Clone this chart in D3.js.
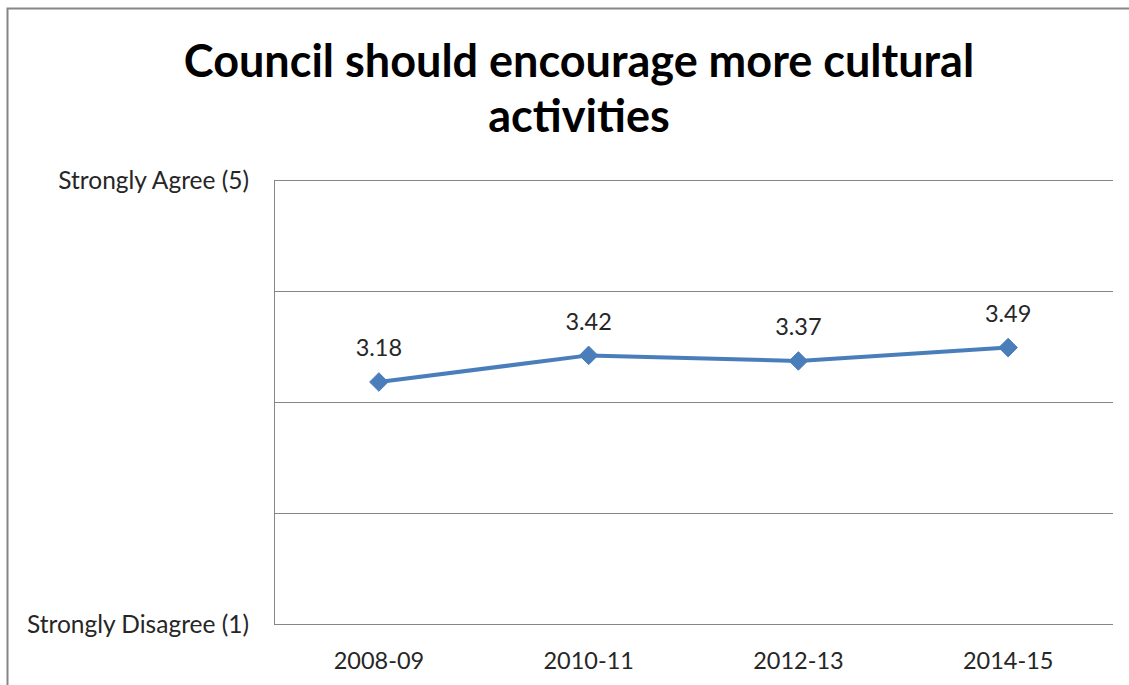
<!DOCTYPE html>
<html><head><meta charset="utf-8">
<script src="https://cdn.jsdelivr.net/npm/d3@7"></script>
<style>html,body{margin:0;padding:0;background:#fff;}svg{display:block;font-family:Lato,"Open Sans",sans-serif;}</style>
</head><body>
<svg id="c" width="1129" height="685"></svg>
<script>
const categories = ["2008-09", "2010-11", "2012-13", "2014-15"];
const values = [3.18, 3.42, 3.37, 3.49];
const yTicks = [1, 2, 3, 4, 5];
const yTickLabels = {1: "Strongly Disagree (1)", 5: "Strongly Agree (5)"};
const titleLines = ["Council should encourage more cultural", "activities"];

const svg = d3.select("#c");
const m = {left: 274, right: 1113, top: 180, bottom: 624};

svg.append("rect").attr("x", 7.5).attr("y", 8.5).attr("width", 1140).attr("height", 700)
  .attr("fill", "#fff").attr("stroke", "#868686").attr("stroke-width", 2);

const x = d3.scaleBand().domain(categories).range([m.left, m.right]);
const y = d3.scaleLinear().domain([1, 5]).range([m.bottom, m.top]);

// gridlines
svg.append("g").attr("transform", `translate(${m.left},0)`)
  .call(d3.axisLeft(y).tickValues(yTicks).tickSize(-(m.right - m.left)).tickFormat(""))
  .call(g => g.select(".domain").remove())
  .call(g => g.selectAll("line").attr("stroke", "#868686").attr("stroke-width", 1).attr("shape-rendering","crispEdges"));
svg.append("line").attr("x1", m.left + 0.5).attr("x2", m.left + 0.5).attr("y1", m.top).attr("y2", m.bottom)
  .attr("stroke", "#868686");

// y labels
svg.append("g").selectAll("text").data(yTicks.filter(d => yTickLabels[d]))
  .join("text").attr("x", 249).attr("y", d => y(d)).attr("dy", "0.35em")
  .attr("text-anchor", "end").attr("font-size", 24.5).attr("fill", "#262626")
  .text(d => yTickLabels[d]);

// x labels
svg.append("g").attr("transform", `translate(0,${m.bottom})`)
  .call(d3.axisBottom(x).tickSize(0).tickPadding(0))
  .call(g => g.select(".domain").remove())
  .call(g => g.selectAll("text").attr("font-size", 23.5).attr("fill", "#262626")
     .attr("font-family", "Lato,'Open Sans',sans-serif").attr("y", 37).attr("dy", "0.35em"));

// title
svg.append("text").attr("x", 579).attr("text-anchor", "middle")
  .attr("font-size", 45).attr("font-weight", "bold").attr("fill", "#000")
  .selectAll("tspan").data(titleLines).join("tspan")
  .attr("x", 579).attr("y", (d, i) => 77 + i * 55).text(d => d);

const cx = d => x(d) + x.bandwidth() / 2;
const line = d3.line().x((d, i) => cx(categories[i])).y(d => y(d));
svg.append("path").datum(values).attr("d", line).attr("fill", "none")
  .attr("stroke", "#4a7ebb").attr("stroke-width", 4).attr("stroke-linejoin", "round");

svg.append("g").selectAll("path").data(values).join("path")
  .attr("transform", (d, i) => `translate(${cx(categories[i])},${y(d)})`)
  .attr("d", d3.symbol(d3.symbolDiamond2, 220)())
  .attr("fill", "#4a7ebb").attr("stroke", "#4a7ebb");

svg.append("g").selectAll("text").data(values).join("text")
  .attr("x", (d, i) => cx(categories[i])).attr("y", d => y(d) - 34).attr("dy", "0.35em")
  .attr("text-anchor", "middle").attr("font-size", 23.5).attr("fill", "#262626")
  .text(d => d.toFixed(2));
</script>
</body></html>
